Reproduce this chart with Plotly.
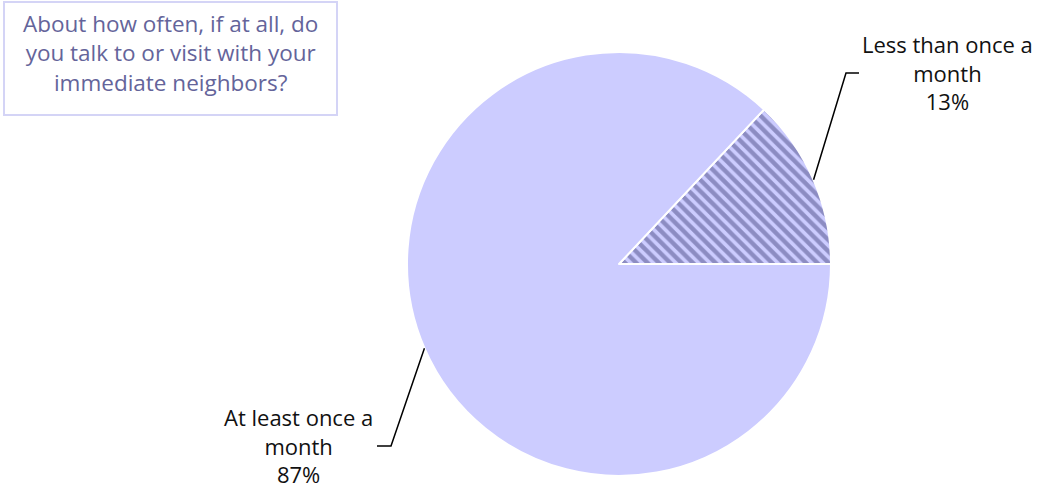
import math
import plotly.graph_objects as go

# Survey answers and their shares (%)
categories = ["Less than once a month", "At least once a month"]
label_lines = [["Less than once a", "month"], ["At least once a", "month"]]
shares = [13, 87]
question = ["About how often, if at all, do", "you talk to or visit with your", "immediate neighbors?"]

W, H = 1038, 490
CX, CY, R = 619, 264, 212          # pie centre and radius in pixels
START_DEG = 0                       # first slice starts at 3 o'clock, runs counterclockwise

FONT = "Open Sans"
FILL = "#ccccff"
HATCH = "#4c4c86"


def px(x):
    return x / W


def py(y):
    return 1 - y / H


total = sum(shares)
first_span = 360 * shares[0] / total

# Drawn clockwise from the far edge of the first slice so that it ends at 3 o'clock
fig = go.Figure(go.Pie(
    labels=categories,
    values=shares,
    sort=False,
    direction="clockwise",
    rotation=90 - START_DEG - first_span,
    textinfo="none",
    hoverinfo="label+percent",
    marker=dict(
        colors=[FILL, FILL],
        line=dict(color="white", width=2),
        pattern=dict(shape=["\\", ""], fgcolor=HATCH, bgcolor=FILL,
                     size=8, solidity=0.55, fillmode="overlay"),
    ),
    domain=dict(x=[px(CX - R), px(CX + R)], y=[py(CY + R), py(CY - R)]),
    showlegend=False,
))

# Label blocks: text centre and the elbow where the leader line turns horizontal
label_pos = [(947, 72), (298, 445)]
elbows = [((846, 73), (859, 73)), ((391, 446), (377, 446))]

acc = 0
shapes, annotations = [], []
for name_lines, v, (lx, ly), (elb, end) in zip(label_lines, shares, label_pos, elbows):
    mid = START_DEG + 360 * (acc + v / 2) / total
    acc += v
    ex = CX + R * math.cos(math.radians(mid))
    ey = CY - R * math.sin(math.radians(mid))
    shapes.append(dict(
        type="path", xref="paper", yref="paper",
        path=f"M {px(ex)},{py(ey)} L {px(elb[0])},{py(elb[1])} L {px(end[0])},{py(end[1])}",
        line=dict(color="black", width=1.5),
    ))
    annotations.append(dict(
        x=px(lx), y=py(ly), xref="paper", yref="paper",
        text="<br>".join(name_lines + [f"{v}%"]),
        showarrow=False, align="center", xanchor="center", yanchor="middle",
        font=dict(family=FONT, size=22, color="#111111"),
    ))

# Question box in the top-left corner
shapes.append(dict(
    type="rect", xref="paper", yref="paper",
    x0=px(4), x1=px(337), y0=py(115), y1=py(2),
    line=dict(color="#d4d4f6", width=2), fillcolor="white", layer="below",
))
annotations.append(dict(
    x=px(170), y=py(53), xref="paper", yref="paper",
    text="<br>".join(question),
    showarrow=False, align="center", xanchor="center", yanchor="middle",
    font=dict(family=FONT, size=22.5, color="#64649a"),
))

fig.update_layout(
    width=W, height=H,
    margin=dict(l=0, r=0, t=0, b=0),
    paper_bgcolor="white", plot_bgcolor="white",
    shapes=shapes, annotations=annotations,
)

fig.write_html("out.html")
